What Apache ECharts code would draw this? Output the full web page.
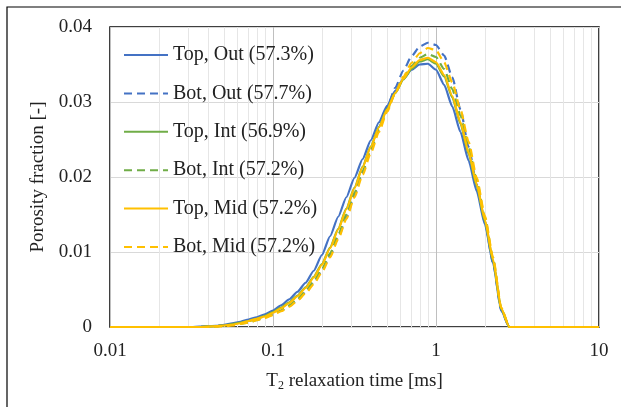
<!DOCTYPE html>
<html>
<head>
<meta charset="utf-8">
<script src="https://cdn.jsdelivr.net/npm/echarts@6/dist/echarts.min.js"></script>
<style>
  html, body { margin: 0; padding: 0; background: #fff; }
  #chart { width: 621px; height: 407px; }
</style>
</head>
<body>
<div id="chart"></div>
<script>
// T2 relaxation times [ms]
var t2 = [0.01,
  0.03162, 0.03548, 0.03981, 0.04467, 0.05012, 0.05623, 0.0631, 0.07079, 0.07943, 0.08913,
  0.1, 0.1122, 0.1259, 0.1413, 0.1585, 0.1778, 0.1995, 0.2239, 0.2512, 0.2818,
  0.3162, 0.3548, 0.3981, 0.4467, 0.5012, 0.5623, 0.631, 0.7079, 0.7943, 0.8913,
  1, 1.122, 1.259, 1.413, 1.585, 1.778, 1.995, 2.239, 2.512, 2.818,
  10];

var topOut = [0,
  0, 0.00005, 0.0001, 0.00015, 0.0003, 0.0005, 0.0007, 0.0010, 0.0013, 0.0017,
  0.0022, 0.0029, 0.0037, 0.0047, 0.0059, 0.0075, 0.0096, 0.0121, 0.0147, 0.0173,
  0.0199, 0.0224, 0.0249, 0.0273, 0.0295, 0.0315, 0.0331, 0.0343, 0.0350, 0.0351,
  0.0343, 0.0323, 0.0294, 0.0260, 0.0222, 0.0181, 0.0137, 0.0085, 0.0022, 0,
  0];
var botOut = [0,
  0, 0, 0.00005, 0.0001, 0.0002, 0.0003, 0.0005, 0.0007, 0.0010, 0.0013,
  0.0017, 0.0022, 0.0028, 0.0036, 0.0046, 0.0059, 0.0075, 0.0095, 0.0119, 0.0146,
  0.0176, 0.0206, 0.0236, 0.0265, 0.0293, 0.0319, 0.0342, 0.0361, 0.0374, 0.0379,
  0.0376, 0.0362, 0.0333, 0.0290, 0.0240, 0.0190, 0.0140, 0.0085, 0.0022, 0,
  0];
var topInt = [0,
  0, 0, 0.00005, 0.0001, 0.0002, 0.0004, 0.0006, 0.0008, 0.0011, 0.0015,
  0.0020, 0.0026, 0.0033, 0.0042, 0.0053, 0.0067, 0.0084, 0.0106, 0.0131, 0.0158,
  0.0186, 0.0214, 0.0241, 0.0267, 0.0291, 0.0312, 0.0330, 0.0344, 0.0354, 0.0357,
  0.0351, 0.0334, 0.0306, 0.0271, 0.0231, 0.0188, 0.0141, 0.0088, 0.0024, 0,
  0];
var botInt = [0,
  0, 0, 0.00005, 0.0001, 0.0002, 0.0003, 0.0004, 0.0006, 0.0009, 0.0013,
  0.0017, 0.0022, 0.0029, 0.0037, 0.0048, 0.0061, 0.0077, 0.0098, 0.0123, 0.0150,
  0.0179, 0.0208, 0.0236, 0.0263, 0.0289, 0.0312, 0.0332, 0.0348, 0.0359, 0.0364,
  0.0360, 0.0344, 0.0317, 0.0282, 0.0240, 0.0195, 0.0146, 0.0091, 0.0025, 0,
  0];
var topMid = [0,
  0, 0, 0.00005, 0.0001, 0.0002, 0.0003, 0.0005, 0.0008, 0.0011, 0.0014,
  0.0019, 0.0025, 0.0032, 0.0041, 0.0052, 0.0066, 0.0083, 0.0105, 0.0130, 0.0157,
  0.0185, 0.0213, 0.0240, 0.0266, 0.0290, 0.0312, 0.0331, 0.0346, 0.0356, 0.0359,
  0.0353, 0.0336, 0.0308, 0.0273, 0.0233, 0.0190, 0.0143, 0.0090, 0.0025, 0,
  0];
var botMid = [0,
  0, 0, 0, 0.00005, 0.0001, 0.0002, 0.0004, 0.0006, 0.0009, 0.0012,
  0.0016, 0.0021, 0.0027, 0.0035, 0.0045, 0.0057, 0.0073, 0.0093, 0.0117, 0.0144,
  0.0173, 0.0203, 0.0232, 0.0260, 0.0287, 0.0312, 0.0334, 0.0352, 0.0365, 0.0372,
  0.0369, 0.0353, 0.0326, 0.0290, 0.0247, 0.0199, 0.0148, 0.0093, 0.0026, 0,
  0];

var names = ['Top, Out (57.3%)', 'Bot, Out (57.7%)', 'Top, Int (56.9%)',
  'Bot, Int (57.2%)', 'Top, Mid (57.2%)', 'Bot, Mid (57.2%)'];

// minor log grid lines
var minorTicks = [0.02, 0.03, 0.04, 0.05, 0.06, 0.07, 0.08, 0.09,
  0.2, 0.3, 0.4, 0.5, 0.6, 0.7, 0.8, 0.9,
  2, 3, 4, 5, 6, 7, 8, 9];

var font = 'Liberation Serif';
var txt = '#222';

function pairs(vals) {
  return vals.map(function (v, i) { return [t2[i], v]; });
}

function mkSeries(name, vals, color, dashed) {
  return {
    name: name,
    type: 'line',
    data: pairs(vals),
    symbol: 'none',
    smooth: 0.2,
    smoothMonotone: 'x',
    lineStyle: { color: color, width: 2.2, type: dashed ? [8, 5] : 'solid' },
    itemStyle: { color: color }
  };
}

var series = [
  mkSeries(names[0], topOut, '#4472C4', false),
  mkSeries(names[1], botOut, '#4472C4', true),
  mkSeries(names[2], topInt, '#70AD47', false),
  mkSeries(names[3], botInt, '#70AD47', true),
  mkSeries(names[4], topMid, '#FFC000', false),
  mkSeries(names[5], botMid, '#FFC000', true)
];
series[0].markLine = {
  silent: true,
  z: 1,
  symbol: ['none', 'none'],
  label: { show: false },
  lineStyle: { color: '#e6e6e6', type: 'solid', width: 1 },
  data: minorTicks.map(function (v) { return { xAxis: v }; })
};

var myChart = echarts.init(document.getElementById('chart'));
var option = {
  animation: false,
  backgroundColor: '#fff',
  graphic: [{
    type: 'rect',
    shape: { x: 7, y: 7, width: 700, height: 500 },
    style: { fill: 'none', stroke: '#000', lineWidth: 1.2 },
    silent: true
  }],
  grid: {
    left: 110, top: 27, right: 22, bottom: 80,
    show: true, borderColor: '#000', borderWidth: 1.5, backgroundColor: 'transparent'
  },
  legend: {
    orient: 'vertical',
    left: 118,
    top: 40,
    itemWidth: 44,
    itemHeight: 14,
    itemGap: 18.4,
    itemStyle: { opacity: 0 },
    textStyle: { fontFamily: font, fontSize: 20, color: txt },
    data: names
  },
  xAxis: {
    type: 'log',
    logBase: 10,
    min: 0.01,
    max: 10,
    name: '{a|T}{b|2}{a| relaxation time [ms]}',
    nameLocation: 'middle',
    nameGap: 43,
    nameTextStyle: {
      rich: {
        a: { fontFamily: font, fontSize: 19, color: txt, lineHeight: 22 },
        b: { fontFamily: font, fontSize: 12, color: txt, lineHeight: 22, verticalAlign: 'bottom', padding: [6, 0, 0, 0] }
      }
    },
    axisLine: { show: false },
    axisTick: { show: false },
    axisLabel: { fontFamily: font, fontSize: 19, color: txt, margin: 15 },
    splitLine: { show: true, lineStyle: { color: '#bfbfbf', width: 1 } }
  },
  yAxis: {
    type: 'value',
    min: 0,
    max: 0.04,
    interval: 0.01,
    name: 'Porosity fraction [-]',
    nameLocation: 'middle',
    nameGap: 56,
    nameTextStyle: { fontFamily: font, fontSize: 19, color: txt },
    axisLine: { show: false },
    axisTick: { show: false },
    axisLabel: { fontFamily: font, fontSize: 19, color: txt, margin: 18 },
    splitLine: { show: true, lineStyle: { color: '#d9d9d9', width: 1 } }
  },
  series: series
};
myChart.setOption(option);
</script>
</body>
</html>
